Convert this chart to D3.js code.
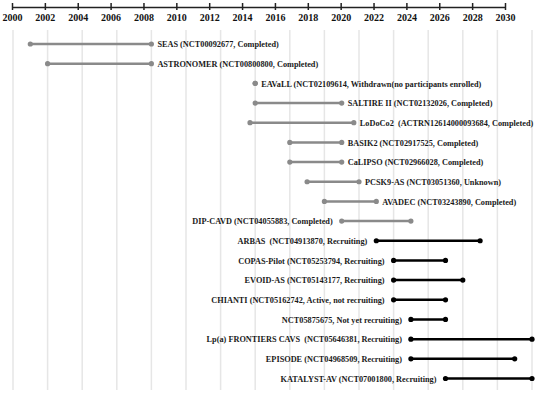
<!DOCTYPE html>
<html>
<head>
<meta charset="utf-8">
<script src="https://cdn.jsdelivr.net/npm/d3@7"></script>
<style>
  body { margin: 0; background: #fff; }
  svg { display: block; }
  .axis text { font-family: "Liberation Serif", "Times New Roman", serif; font-weight: bold; font-size: 10px; fill: #111; }
  .axis path, .axis line { stroke: #222; stroke-width: 1.5; }
  .label { font-family: "Liberation Serif", "Times New Roman", serif; font-weight: bold; font-size: 9px; fill: #1a1a1a; white-space: pre; }
  .grid line { stroke: #e6e6e6; stroke-width: 1.5; }
</style>
</head>
<body>
<svg id="chart" width="550" height="393"></svg>
<script>
// trial names as printed
const trials = [
  "SEAS (NCT00092677, Completed)",
  "ASTRONOMER (NCT00800800, Completed)",
  "EAVaLL (NCT02109614, Withdrawn(no participants enrolled)",
  "SALTIRE II (NCT02132026, Completed)",
  "LoDoCo2  (ACTRN12614000093684, Completed)",
  "BASIK2 (NCT02917525, Completed)",
  "CaLIPSO (NCT02966028, Completed)",
  "PCSK9-AS (NCT03051360, Unknown)",
  "AVADEC (NCT03243890, Completed)",
  "DIP-CAVD (NCT04055883, Completed)",
  "ARBAS  (NCT04913870, Recruiting)",
  "COPAS-Pilot (NCT05253794, Recruiting)",
  "EVOID-AS (NCT05143177, Recruiting)",
  "CHIANTI (NCT05162742, Active, not recruiting)",
  "NCT05875675, Not yet recruiting)",
  "Lp(a) FRONTIERS CAVS  (NCT05646381, Recruiting)",
  "EPISODE (NCT04968509, Recruiting)",
  "KATALYST-AV (NCT07001800, Recruiting)"
];
const startYears = [2001, 2002, 2014, 2014, 2013.7, 2016, 2016, 2017, 2018, 2019, 2021, 2022, 2022, 2022, 2023, 2023, 2023, 2025];
const endYears   = [2008, 2008, 2014, 2019, 2019.7, 2019, 2019, 2020, 2021, 2023, 2027, 2025, 2026, 2025, 2025, 2030, 2029, 2030];
const active     = [false, false, false, false, false, false, false, false, false, false, true, true, true, true, true, true, true, true];
// rows whose label sits left of the bar
const labelLeft  = [false, false, false, false, false, false, false, false, false, true, true, true, true, true, true, true, true, true];
const tickYears  = d3.range(2000, 2031, 2);

const svg = d3.select("#chart");

// the top axis and the plotted bars use slightly different spacing in the original
const axisX = d3.scaleLinear().domain([2000, 2030]).range([12, 505]);
const x = d3.scaleLinear().domain([2000, 2030]).range([13, 532]);
const y = d3.scalePoint().domain(d3.range(trials.length)).range([44, 378.5]);

svg.append("g").attr("class", "grid")
  .selectAll("line").data(tickYears).join("line")
    .attr("x1", d => x(d)).attr("x2", d => x(d))
    .attr("y1", 30).attr("y2", 390);

const axis = svg.append("g").attr("class", "axis")
  .attr("transform", "translate(0,7)")
  .call(d3.axisBottom(axisX).tickValues(tickYears).tickFormat(d3.format("d")).tickSize(3).tickSizeOuter(0));
axis.selectAll(".tick line").attr("y1", -4).attr("y2", 3);
axis.selectAll(".tick text").attr("y", 7).attr("dy", "0.71em");

const rows = svg.append("g").selectAll("g").data(trials).join("g")
  .attr("transform", (d, i) => `translate(0,${y(i)})`);

const colorOf = i => active[i] ? "#000" : "#8a8a8a";

rows.append("line")
  .attr("x1", (d, i) => x(startYears[i]))
  .attr("x2", (d, i) => x(endYears[i]))
  .attr("stroke", (d, i) => colorOf(i))
  .attr("stroke-width", 2.5);

rows.selectAll("circle")
  .data((d, i) => [{i, v: startYears[i]}, {i, v: endYears[i]}])
  .join("circle")
    .attr("cx", d => x(d.v))
    .attr("r", 2.6)
    .attr("fill", d => colorOf(d.i));

// labels are a bit narrower than plain Times in the original
rows.append("text")
  .attr("class", "label")
  .attr("transform", (d, i) => {
    const lx = labelLeft[i] ? x(startYears[i]) - 9 : x(endYears[i]) + 6;
    return `translate(${lx},0) scale(0.92,1)`;
  })
  .attr("dy", "0.35em")
  .attr("text-anchor", (d, i) => labelLeft[i] ? "end" : "start")
  .text(d => d);
</script>
</body>
</html>
